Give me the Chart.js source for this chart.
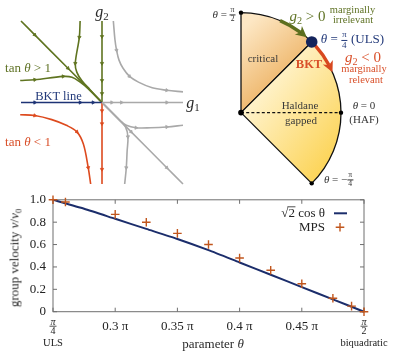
<!DOCTYPE html>
<html>
<head>
<meta charset="utf-8">
<script src="https://cdn.jsdelivr.net/npm/chart.js@4.4.1/dist/chart.umd.min.js"></script>
<style>
  body { margin: 0; width: 395px; height: 351px; position: relative; overflow: hidden; background: #fff;
         font-family: 'Liberation Serif', 'DejaVu Serif', serif; color: #2a2a2a; }
  .box { position: absolute; }
  .c { position: absolute; transform: translate(-50%, -50%); white-space: nowrap; line-height: 1; }
  sub { font-size: 0.68em; vertical-align: -0.3em; line-height: 0; }
  .fr { display: inline-block; vertical-align: middle; text-align: center; font-size: 0.7em; line-height: 1.05; }
  .fr > span { display: block; padding: 0 1px; }
  .fr > span:first-child { border-bottom: 0.8px solid currentColor; }
  .green { color: #617427; }
  .red { color: #d9502a; }
  .navy { color: #233a7a; }
</style>
</head>
<body>

<div class="box" style="left:16px;top:16px;width:172px;height:173px"><canvas id="flow"></canvas></div>
<div class="box" style="left:230.7px;top:2.7px;width:120px;height:190px"><canvas id="phase"></canvas></div>
<div class="box" style="left:0;top:185px;width:395px;height:166px"><canvas id="vel"></canvas></div>

<!-- texte du diagramme de flot -->
<span class="c" style="left:102px;top:12px;font-size:16px"><i>g</i><sub>2</sub></span>
<span class="c" style="left:193px;top:103px;font-size:16px"><i>g</i><sub>1</sub></span>
<span class="c green" style="left:28px;top:66.5px;font-size:13px">tan <i>θ</i> &gt; 1</span>
<span class="c navy" style="left:58.5px;top:96px;font-size:12.5px">BKT line</span>
<span class="c red" style="left:28px;top:140.5px;font-size:13px">tan <i>θ</i> &lt; 1</span>

<!-- texte du diagramme de phase -->
<span class="c" style="left:224px;top:14.5px;font-size:11px;color:#333"><i>θ</i> = <span class="fr"><span>π</span><span>2</span></span></span>
<span class="c green" style="left:307.5px;top:16px;font-size:15px"><i>g</i><sub>2</sub> &gt; 0</span>
<span class="c green" style="left:352.5px;top:9.5px;font-size:10.5px">marginally</span>
<span class="c green" style="left:353px;top:19.5px;font-size:10.5px">irrelevant</span>
<span class="c navy" style="left:352.5px;top:40px;font-size:13px"><i>θ</i> = <span class="fr"><span>π</span><span>4</span></span> (ULS)</span>
<span class="c red" style="left:363px;top:57px;font-size:15px"><i>g</i><sub>2</sub> &lt; 0</span>
<span class="c red" style="left:364px;top:69px;font-size:10.5px">marginally</span>
<span class="c red" style="left:366px;top:79.5px;font-size:10.5px">relevant</span>
<span class="c red" style="left:309px;top:63.5px;font-size:12.5px;font-weight:bold">BKT</span>
<span class="c" style="left:263px;top:57.5px;font-size:11px;color:#3a3a3a">critical</span>
<span class="c" style="left:300px;top:104.7px;font-size:11px;color:#3a3a3a">Haldane</span>
<span class="c" style="left:301px;top:120px;font-size:11px;color:#3a3a3a">gapped</span>
<span class="c" style="left:364px;top:105px;font-size:11px;color:#333"><i>θ</i> = 0</span>
<span class="c" style="left:364px;top:119px;font-size:11px;color:#333">(HAF)</span>
<span class="c" style="left:338.5px;top:180px;font-size:11px;color:#333"><i>θ</i> = −<span class="fr"><span>π</span><span>4</span></span></span>

<!-- titres des axes -->
<span class="c" style="left:14px;top:258px;font-size:13px;transform:translate(-50%,-50%) rotate(-90deg)">group velocity <i>v</i>/<i>v</i><sub>0</sub></span>
<span class="c" style="left:213px;top:343px;font-size:13px">parameter <i>θ</i></span>

<script>
// --- diagramme de flot RG (unités arbitraires, origine au point fixe) ---
const greenDiag  = [[-1, 1], [-0.83, 0.83], [-0.42, 0.42], [0, 0]];
const greenVert  = [[0, 1], [0, 0.81], [0, 0.48], [0, 0.27], [0, 0.11], [0, 0]];
const greenTop   = [[-0.27, 1.0], [-0.28, 0.8], [-0.33, 0.48], [-0.31, 0.37], [-0.25, 0.27], [-0.15, 0.16], [-0.02, 0.02]];
const greenLeft  = [[-1.01, 0.27], [-0.83, 0.28], [-0.48, 0.32], [-0.37, 0.31], [-0.27, 0.25], [-0.17, 0.17], [-0.02, 0.02]];
const bktLine    = [[-1, 0], [-0.83, 0], [-0.27, 0], [-0.11, 0], [0, 0]];
const redCurve   = [[-1.01, -0.15], [-0.83, -0.16], [-0.62, -0.21], [-0.44, -0.28], [-0.31, -0.36], [-0.23, -0.51], [-0.17, -0.8], [-0.14, -1.0]];
const redVert    = [[0, 0], [0, -0.1], [0, -0.26], [0, -0.82], [0, -1]];
const grayUpper  = [[0.14, 1.0], [0.16, 0.77], [0.18, 0.64], [0.21, 0.52], [0.26, 0.42], [0.34, 0.32], [0.45, 0.25], [0.62, 0.18], [0.8, 0.15], [1.0, 0.13]];
const grayHoriz  = [[0, 0], [0.12, 0], [0.24, 0], [0.8, 0], [1, 0]];
const grayDiag   = [[0, 0], [0.36, -0.36], [0.8, -0.8], [1, -1]];
const grayLowV   = [[0.02, -0.02], [0.22, -0.22], [0.29, -0.3], [0.32, -0.42], [0.31, -0.6], [0.3, -0.8], [0.28, -1.0]];
const grayLowH   = [[0.02, -0.02], [0.22, -0.22], [0.3, -0.28], [0.42, -0.31], [0.6, -0.31], [0.8, -0.3], [1.0, -0.28]];

// --- diagramme de phase: ouverture des secteurs en degrés ---
const phaseNames   = ['critical', 'Haldane'];
const phaseSpanDeg = [45, 90];
const greenArrowDeg = [67, 50];   // θ de départ / d'arrivée de la flèche g2 > 0
const redArrowDeg   = [42, 25];   // idem pour g2 < 0

// --- vitesse de groupe ---
const thetaLine = [0.25, 0.275, 0.3, 0.325, 0.35, 0.375, 0.4, 0.425, 0.45, 0.475, 0.5];
const velLine   = [1.0, 0.92, 0.83, 0.74, 0.65, 0.55, 0.44, 0.33, 0.22, 0.11, 0.0];
const thetaMps  = [0.25, 0.26, 0.3, 0.325, 0.35, 0.375, 0.4, 0.425, 0.45, 0.475, 0.49, 0.5];
const velMps    = [1.0, 0.98, 0.87, 0.8, 0.7, 0.6, 0.48, 0.37, 0.25, 0.12, 0.05, 0.0];
const xTicks = [0.25, 0.3, 0.35, 0.4, 0.45, 0.5];
const yTicks = [0, 0.2, 0.4, 0.6, 0.8, 1];
const endLabels = { 0.25: ['π', '4', 'ULS'], 0.5: ['π', '2', 'biquadratic'] };

const SERIF = "'Liberation Serif', 'DejaVu Serif', serif";

// ---------------------------------------------------------------
// 1) flot RG
const toPts = arr => arr.map(p => ({ x: p[0], y: p[1] }));

function arrowRot(ctx) {
    const d = ctx.dataset.data;
    const i = ctx.dataIndex;
    if (i === undefined) return 0;
    const p = d[Math.max(i - 1, 0)], n = d[Math.min(i + 1, d.length - 1)];
    return Math.atan2(-(n.y - p.y), n.x - p.x) * 180 / Math.PI + 90;
}

function flowSet(arr, color, arrows) {
    return {
        data: toPts(arr),
        showLine: true,
        borderColor: color,
        backgroundColor: color,
        borderWidth: 1.6,
        tension: 0.35,
        clip: false,
        pointStyle: 'triangle',
        pointRadius: ctx => arrows.includes(ctx.dataIndex) ? 1.9 : 0,
        pointRotation: arrowRot,
        pointBorderWidth: 0.8
    };
}

const GREEN = '#5f7420', NAVY = '#1d3375', RED = '#dd4a1e', GRAY = '#a9a9a9';

new Chart(document.getElementById('flow'), {
    type: 'scatter',
    data: {
        datasets: [
            flowSet(greenDiag, GREEN, [1, 2]),
            flowSet(greenVert, GREEN, [1, 2, 3, 4]),
            flowSet(greenTop, GREEN, [1, 2]),
            flowSet(greenLeft, GREEN, [1, 2]),
            flowSet(bktLine, NAVY, [1, 2, 3]),
            flowSet(redCurve, RED, [1, 4, 6]),
            flowSet(redVert, RED, [1, 2, 3]),
            flowSet(grayUpper, GRAY, [2, 5, 8]),
            flowSet(grayHoriz, GRAY, [1, 2, 3]),
            flowSet(grayDiag, GRAY, [1, 2]),
            flowSet(grayLowV, GRAY, [3, 5]),
            flowSet(grayLowH, GRAY, [3, 5])
        ].reverse()
    },
    options: {
        responsive: true, maintainAspectRatio: false, animation: false,
        layout: { padding: 5 },
        plugins: { legend: { display: false }, tooltip: { enabled: false } },
        scales: {
            x: { type: 'linear', min: -1, max: 1, display: false },
            y: { type: 'linear', min: -1, max: 1, display: false }
        }
    }
});

// ---------------------------------------------------------------
// 2) diagramme de phase (secteur de disque)
function phaseFill(ctx) {
    const chart = ctx.chart;
    const a = chart.chartArea;
    if (!a) return '#f3c060';
    const g = chart.ctx;
    let gr;
    if (ctx.dataIndex === 0) {
        gr = g.createLinearGradient(a.left + 12, a.top + 25, a.left + 78, a.top + 100);
        gr.addColorStop(0, '#fde7c4');
        gr.addColorStop(1, '#e79f40');
    } else {
        gr = g.createLinearGradient(a.left + 15, a.top + 95, a.left + 105, a.top + 165);
        gr.addColorStop(0, '#fff4d2');
        gr.addColorStop(1, '#fcd24f');
    }
    return gr;
}

function arcArrow(g, cx, cy, R, degs, color) {
    const a0 = -degs[0] * Math.PI / 180, a1 = -degs[1] * Math.PI / 180;
    g.save();
    g.strokeStyle = color;
    g.fillStyle = color;
    g.lineWidth = 3.4;
    g.lineCap = 'butt';
    g.beginPath();
    g.arc(cx, cy, R, a0, a1 - 0.06, false);
    g.stroke();
    // pointe tangente à l'arc
    const ex = cx + R * Math.cos(a1), ey = cy + R * Math.sin(a1);
    const tx = -Math.sin(a1), ty = Math.cos(a1);
    const nx = Math.cos(a1), ny = Math.sin(a1);
    const L = 9, W = 5.5;
    g.beginPath();
    g.moveTo(ex + tx * 2, ey + ty * 2);
    g.lineTo(ex - tx * L + nx * W, ey - ty * L + ny * W);
    g.lineTo(ex - tx * (L - 3), ey - ty * (L - 3));
    g.lineTo(ex - tx * L - nx * W, ey - ty * L - ny * W);
    g.closePath();
    g.fill();
    g.restore();
}

const phaseDecor = {
    id: 'phaseDecor',
    afterDatasetsDraw(chart) {
        const arc = chart.getDatasetMeta(0).data[0];
        const cx = arc.x, cy = arc.y, R = arc.outerRadius;
        const g = chart.ctx;
        const pt = deg => [cx + R * Math.cos(-deg * Math.PI / 180), cy + R * Math.sin(-deg * Math.PI / 180)];
        g.save();
        // ligne pointillée θ = 0
        g.strokeStyle = '#111';
        g.lineWidth = 1.1;
        g.setLineDash([3, 2.2]);
        g.beginPath();
        g.moveTo(cx, cy);
        g.lineTo(...pt(0));
        g.stroke();
        g.setLineDash([]);
        // flèches
        arcArrow(g, cx, cy, R, greenArrowDeg, '#5d6f1f');
        arcArrow(g, cx, cy, R, redArrowDeg, '#d8481f');
        // points
        g.fillStyle = '#000';
        [[cx, cy, 2.8], [...pt(90), 2.2], [...pt(0), 2.2], [...pt(-45), 2.2]].forEach(p => {
            g.beginPath(); g.arc(p[0], p[1], p[2], 0, Math.PI * 2); g.fill();
        });
        const u = pt(45);
        g.fillStyle = '#14245c';
        g.beginPath(); g.arc(u[0], u[1], 5.8, 0, Math.PI * 2); g.fill();
        g.restore();
    }
};

new Chart(document.getElementById('phase'), {
    type: 'pie',
    data: {
        labels: phaseNames,
        datasets: [{
            data: phaseSpanDeg,
            backgroundColor: phaseFill,
            borderColor: '#111',
            borderWidth: 1.3,
            hoverOffset: 0
        }]
    },
    options: {
        responsive: true, maintainAspectRatio: false, animation: false,
        rotation: 0, circumference: 135, radius: 100,
        layout: { padding: 0 },
        plugins: { legend: { display: false }, tooltip: { enabled: false } }
    },
    plugins: [phaseDecor]
});

// ---------------------------------------------------------------
// 3) vitesse de groupe vs θ
const FRAME = '#6f6f6f';

const frameTicks = {
    id: 'frameTicks',
    beforeDatasetsDraw(chart) {
        const { ctx: g, chartArea: a, scales: { x, y } } = chart;
        g.save();
        g.strokeStyle = FRAME;
        g.lineWidth = 1;
        g.strokeRect(a.left, a.top, a.width, a.height);
        g.beginPath();
        xTicks.forEach(v => {
            const px = x.getPixelForValue(v);
            g.moveTo(px, a.bottom); g.lineTo(px, a.bottom - 4);
            g.moveTo(px, a.top); g.lineTo(px, a.top + 4);
        });
        yTicks.forEach(v => {
            const py = y.getPixelForValue(v);
            g.moveTo(a.left, py); g.lineTo(a.left + 4, py);
            g.moveTo(a.right, py); g.lineTo(a.right - 4, py);
        });
        g.stroke();
        g.restore();
    },
    afterDraw(chart) {
        const { ctx: g, chartArea: a, scales: { x } } = chart;
        g.save();
        g.fillStyle = '#222';
        g.strokeStyle = '#222';
        g.textAlign = 'center';
        g.textBaseline = 'middle';
        Object.keys(endLabels).forEach(k => {
            const px = x.getPixelForValue(Number(k));
            const [num, den, name] = endLabels[k];
            g.font = `italic 10px ${SERIF}`;
            g.fillText(num, px, a.bottom + 10.5);
            g.lineWidth = 0.8;
            g.beginPath(); g.moveTo(px - 3.5, a.bottom + 14.5); g.lineTo(px + 3.5, a.bottom + 14.5); g.stroke();
            g.font = `10px ${SERIF}`;
            g.fillText(den, px, a.bottom + 19.5);
            g.font = `10.5px ${SERIF}`;
            g.fillText(name, px, a.bottom + 31.3);
        });
        g.restore();
    }
};

const sideLegend = {
    id: 'sideLegend',
    afterDraw(chart) {
        const { ctx: g, chartArea: a } = chart;
        const line = chart.data.datasets[1], mps = chart.data.datasets[0];
        const tx = a.right - 39;
        const y1 = a.top + 13.5, y2 = a.top + 27.5;
        g.save();
        g.fillStyle = '#222';
        g.strokeStyle = '#222';
        g.textAlign = 'right';
        g.textBaseline = 'middle';
        g.font = `13px ${SERIF}`;
        const full = g.measureText('√2 cos θ').width;
        g.fillText('√2 cos θ', tx, y1);
        // barre du radical
        const s0 = tx - full + g.measureText('√').width;
        const s1 = s0 + g.measureText('2').width;
        g.lineWidth = 0.8;
        g.beginPath(); g.moveTo(s0 - 1, y1 - 6.5); g.lineTo(s1 + 0.5, y1 - 6.5); g.stroke();
        g.fillText(mps.label, tx, y2);
        // symboles
        g.strokeStyle = line.borderColor;
        g.lineWidth = line.borderWidth;
        g.beginPath(); g.moveTo(a.right - 30, y1); g.lineTo(a.right - 17, y1); g.stroke();
        g.strokeStyle = mps.borderColor;
        g.lineWidth = mps.pointBorderWidth;
        const mx = a.right - 24, r = mps.pointRadius;
        g.beginPath();
        g.moveTo(mx - r, y2); g.lineTo(mx + r, y2);
        g.moveTo(mx, y2 - r); g.lineTo(mx, y2 + r);
        g.stroke();
        g.restore();
    }
};

new Chart(document.getElementById('vel'), {
    type: 'scatter',
    data: {
        datasets: [
            {
                label: 'MPS',
                data: thetaMps.map((t, i) => ({ x: t, y: velMps[i] })),
                pointStyle: 'cross',
                pointRadius: 4.3,
                pointBorderWidth: 1.4,
                borderColor: '#c1561d',
                backgroundColor: '#c1561d',
                showLine: false,
                clip: false
            },
            {
                label: '√2 cos θ',
                data: thetaLine.map((t, i) => ({ x: t, y: velLine[i] })),
                showLine: true,
                borderColor: '#1b2d6b',
                borderWidth: 2,
                pointRadius: 0,
                tension: 0.2,
                clip: false
            }
        ]
    },
    options: {
        responsive: true, maintainAspectRatio: false, animation: false,
        layout: { padding: { top: 13.5, right: 31, bottom: 0, left: 0 } },
        plugins: { legend: { display: false }, tooltip: { enabled: false } },
        scales: {
            x: {
                type: 'linear', min: 0.25, max: 0.5,
                afterBuildTicks: s => { s.ticks = xTicks.map(v => ({ value: v })); },
                afterFit: s => { s.height = 39.3; },
                grid: { display: false, drawTicks: false },
                border: { display: false },
                ticks: {
                    padding: 7, color: '#222', autoSkip: false, maxRotation: 0,
                    font: { family: SERIF, size: 13 },
                    callback: v => endLabels[v] ? '' : v + ' π'
                }
            },
            y: {
                type: 'linear', min: 0, max: 1,
                afterBuildTicks: s => { s.ticks = yTicks.map(v => ({ value: v })); },
                afterFit: s => { s.width = 53; },
                grid: { display: false, drawTicks: false },
                border: { display: false },
                ticks: { padding: 7, color: '#222', font: { family: SERIF, size: 13 } }
            }
        }
    },
    plugins: [frameTicks, sideLegend]
});
</script>
</body>
</html>
